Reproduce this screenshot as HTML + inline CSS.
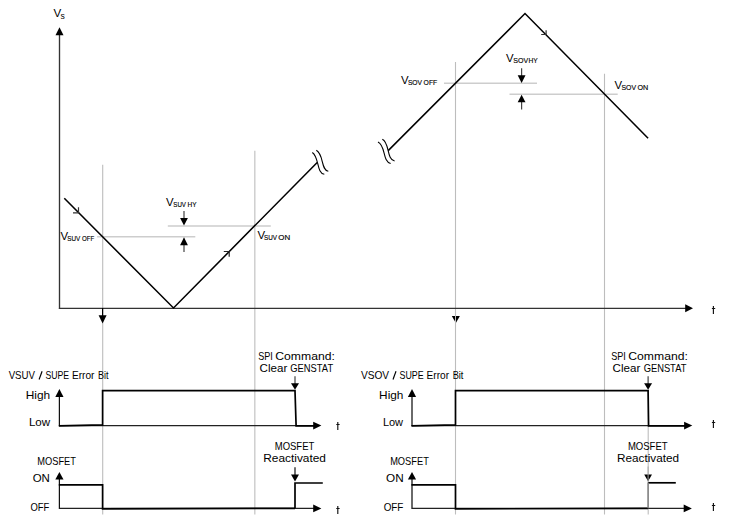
<!DOCTYPE html>
<html><head><meta charset="utf-8"><style>
html,body{margin:0;padding:0;background:#fff;}
svg{display:block;}
</style></head><body>
<svg width="742" height="520" viewBox="0 0 742 520">
<rect width="742" height="520" fill="#fff"/>
<line x1="102.7" y1="164.8" x2="102.7" y2="514.5" stroke="#bdbdbd" stroke-width="1.1"/>
<line x1="254.85" y1="150.8" x2="254.85" y2="514.5" stroke="#bdbdbd" stroke-width="1.1"/>
<line x1="455.5" y1="62" x2="455.5" y2="514.5" stroke="#bdbdbd" stroke-width="1.1"/>
<line x1="604.5" y1="73.8" x2="604.5" y2="514.5" stroke="#bdbdbd" stroke-width="1.1"/>
<line x1="648.2" y1="390" x2="648.2" y2="514.5" stroke="#bdbdbd" stroke-width="1.1"/>
<line x1="167.8" y1="226" x2="270.8" y2="226" stroke="#cdcdcd" stroke-width="1.5"/>
<line x1="97.1" y1="236.85" x2="195.3" y2="236.85" stroke="#cdcdcd" stroke-width="1.5"/>
<line x1="444" y1="83.3" x2="537" y2="83.3" stroke="#cdcdcd" stroke-width="1.5"/>
<line x1="509.5" y1="94.3" x2="617.7" y2="94.3" stroke="#cdcdcd" stroke-width="1.5"/>
<line x1="59.5" y1="34" x2="59.5" y2="309" stroke="#333" stroke-width="1.35"/>
<polygon points="59.5,27.2 55.5,35.2 63.5,35.2" fill="#000"/>
<line x1="58.9" y1="308.3" x2="687" y2="308.3" stroke="#333" stroke-width="1.35"/>
<polygon points="693,308.2 685.2,304.2 685.2,312.2" fill="#000"/>
<path d="M64.3,198.3 L173.5,308 L317.2,162.5" stroke="#000" stroke-width="1.55" fill="none" stroke-linejoin="miter"/>
<path d="M388.2,150.6 L525,13.5 L648.1,138.3" stroke="#000" stroke-width="1.55" fill="none" stroke-linejoin="miter"/>
<path d="M312.31,152.46 C319.44,157.22 316.38,173.17 324.31,174.31" stroke="#000" stroke-width="1.1" fill="none" />
<path d="M316.31,150.31 C323.98,154.38 320.71,169.96 328.31,171.23" stroke="#000" stroke-width="1.1" fill="none" />
<path d="M378.00,142.00 C385.93,145.89 382.19,160.90 390.62,163.54" stroke="#000" stroke-width="1.1" fill="none" />
<path d="M382.31,139.23 C389.92,142.60 386.34,159.62 394.62,161.08" stroke="#000" stroke-width="1.1" fill="none" />
<path d="M73.0,212.9 H78.5 V207.2" stroke="#333" stroke-width="1.2" fill="none" />
<path d="M223.8,251.5 H229.2 V256.8" stroke="#222" stroke-width="1.2" fill="none" />
<path d="M541.2,34.5 H546.1 V30.3" stroke="#333" stroke-width="1.2" fill="none" />
<line x1="184" y1="211" x2="184" y2="219" stroke="#444" stroke-width="1.2"/>
<polygon points="184,225.5 180.1,218 187.9,218" fill="#000"/>
<line x1="184" y1="244" x2="184" y2="252" stroke="#444" stroke-width="1.2"/>
<polygon points="184,237.2 180.1,245.3 187.9,245.3" fill="#000"/>
<line x1="521.6" y1="68.2" x2="521.6" y2="76" stroke="#444" stroke-width="1.2"/>
<polygon points="521.6,82.9 517.7,75.3 525.5,75.3" fill="#000"/>
<line x1="521.6" y1="101" x2="521.6" y2="109.6" stroke="#444" stroke-width="1.2"/>
<polygon points="521.6,94.8 517.7,102.2 525.5,102.2" fill="#000"/>
<line x1="102.6" y1="308" x2="102.6" y2="316" stroke="#000" stroke-width="1.2"/>
<polygon points="102.6,323.4 98.6,315.2 106.6,315.2" fill="#000"/>
<polygon points="451.8,315.9 459.9,315.9 455.85,323.0" fill="#000"/>
<line x1="455.5" y1="309" x2="455.5" y2="323" stroke="#bdbdbd" stroke-width="1.0"/>
<line x1="59.4" y1="395" x2="59.4" y2="426.1" stroke="#111" stroke-width="1.25"/>
<polygon points="59.4,389.1 55.3,397 63.5,397" fill="#000"/>
<line x1="59.4" y1="425.5" x2="314.4" y2="425.5" stroke="#222" stroke-width="1.25"/>
<polygon points="321.4,425.6 313.2,421.70000000000005 313.2,429.5" fill="#000"/>
<path d="M58.8,425.8 L102.6,424.9 V390.7 H295.0 L296.1,425.8 H314.4" stroke="#000" stroke-width="1.7" fill="none" />
<line x1="295.0" y1="376.3" x2="295.0" y2="384" stroke="#333" stroke-width="1.1"/>
<polygon points="295.0,389.8 291.0,383.3 299.0,383.3" fill="#000"/>
<line x1="59.4" y1="478" x2="59.4" y2="509.0" stroke="#111" stroke-width="1.25"/>
<polygon points="59.4,472 55.3,479.6 63.5,479.6" fill="#000"/>
<line x1="59.4" y1="508.3" x2="314.4" y2="508.3" stroke="#222" stroke-width="1.25"/>
<polygon points="321.4,508.4 313.2,504.5 313.2,512.3" fill="#000"/>
<path d="M58.8,484.8 H102.6 V508.9 L295.0,508.3" stroke="#000" stroke-width="1.7" fill="none" />
<path d="M295.0,508.3 V483.0 H322.8" stroke="#000" stroke-width="1.7" fill="none" />
<line x1="295.0" y1="467.2" x2="295.0" y2="475" stroke="#111" stroke-width="1.2"/>
<polygon points="295.0,481.6 291.0,474.6 299.0,474.6" fill="#000"/>
<line x1="412.0" y1="395" x2="412.0" y2="426.1" stroke="#111" stroke-width="1.25"/>
<polygon points="412.0,389.1 407.9,397 416.1,397" fill="#000"/>
<line x1="412.0" y1="425.5" x2="685.3" y2="425.5" stroke="#222" stroke-width="1.25"/>
<polygon points="692.3,425.6 684.0999999999999,421.70000000000005 684.0999999999999,429.5" fill="#000"/>
<path d="M411.4,425.8 L455.5,424.9 V390.7 H648.1 L648.6,425.8 H685.3" stroke="#000" stroke-width="1.7" fill="none" />
<line x1="648.1" y1="376.3" x2="648.1" y2="384" stroke="#333" stroke-width="1.1"/>
<polygon points="648.1,389.8 644.1,383.3 652.1,383.3" fill="#000"/>
<line x1="412.0" y1="478" x2="412.0" y2="509.0" stroke="#111" stroke-width="1.25"/>
<polygon points="412.0,472 407.9,479.6 416.1,479.6" fill="#000"/>
<line x1="412.0" y1="508.3" x2="684.9" y2="508.3" stroke="#222" stroke-width="1.25"/>
<polygon points="691.9,508.4 683.6999999999999,504.5 683.6999999999999,512.3" fill="#000"/>
<path d="M411.4,484.8 H455.5 V508.9 L648.1,508.3" stroke="#000" stroke-width="1.7" fill="none" />
<line x1="648.1" y1="482.8" x2="675.8" y2="482.8" stroke="#000" stroke-width="1.7"/>
<line x1="648.1" y1="508.3" x2="648.1" y2="482.5" stroke="#808080" stroke-width="1.5"/>
<polygon points="648.1,481.2 644.2,474.5 652.0,474.5" fill="#000"/>
<line x1="648.1" y1="466.5" x2="648.1" y2="481.5" stroke="#a8a8a8" stroke-width="1.0"/>
<g font-family="Liberation Sans, sans-serif" fill="#000">
<text x="53.6" y="17.1" font-size="11.6">V</text>
<text x="60.4" y="19.1" font-size="8.6">s</text>
<text x="60.6" y="239.9" font-size="11.4">V</text>
<g stroke="#000" stroke-width="0.15">
<text x="67.2" y="240.9" font-size="7.9" textLength="13.0" lengthAdjust="spacingAndGlyphs">SUV</text>
<text x="82.0" y="240.9" font-size="7.9" textLength="12.2" lengthAdjust="spacingAndGlyphs">OFF</text>
</g>
<text x="166.1" y="205.6" font-size="11.4">V</text>
<g stroke="#000" stroke-width="0.15">
<text x="173.3" y="206.9" font-size="7.9" textLength="12.7" lengthAdjust="spacingAndGlyphs">SUV</text>
<text x="187.6" y="206.9" font-size="7.9" textLength="9.0" lengthAdjust="spacingAndGlyphs">HY</text>
</g>
<text x="257.40000000000003" y="238.6" font-size="11.4">V</text>
<g stroke="#000" stroke-width="0.15">
<text x="264.0" y="239.9" font-size="7.9" textLength="13.0" lengthAdjust="spacingAndGlyphs">SUV</text>
<text x="278.3" y="239.9" font-size="7.9" textLength="11.9" lengthAdjust="spacingAndGlyphs">ON</text>
</g>
<text x="400.90000000000003" y="83.9" font-size="11.4">V</text>
<g stroke="#000" stroke-width="0.15">
<text x="407.9" y="84.75" font-size="7.9" textLength="14.2" lengthAdjust="spacingAndGlyphs">SOV</text>
<text x="423.6" y="84.75" font-size="7.9" textLength="13.6" lengthAdjust="spacingAndGlyphs">OFF</text>
</g>
<text x="506.1" y="61.6" font-size="11.4">V</text>
<g stroke="#000" stroke-width="0.15">
<text x="513.3" y="62.9" font-size="7.9" textLength="14.9" lengthAdjust="spacingAndGlyphs">SOV</text>
<text x="528.4" y="62.9" font-size="7.9" textLength="9.2" lengthAdjust="spacingAndGlyphs">HY</text>
</g>
<text x="614.6" y="88.6" font-size="11.4">V</text>
<g stroke="#000" stroke-width="0.15">
<text x="621.5" y="89.9" font-size="7.9" textLength="14.6" lengthAdjust="spacingAndGlyphs">SOV</text>
<text x="637.4" y="89.9" font-size="7.9" textLength="10.8" lengthAdjust="spacingAndGlyphs">ON</text>
</g>
<text x="8.66" y="378.8" font-size="10.5" textLength="26.39" lengthAdjust="spacingAndGlyphs">VSUV</text>
<text x="45.41" y="378.8" font-size="10.5" textLength="23.67" lengthAdjust="spacingAndGlyphs">SUPE</text>
<text x="71.97" y="378.8" font-size="10.5" textLength="22.50" lengthAdjust="spacingAndGlyphs">Error</text>
<text x="97.96" y="378.8" font-size="10.5" textLength="10.50" lengthAdjust="spacingAndGlyphs">Bit</text>
<text x="360.96" y="378.8" font-size="10.5" textLength="28.19" lengthAdjust="spacingAndGlyphs">VSOV</text>
<text x="399.50" y="378.8" font-size="10.5" textLength="24.18" lengthAdjust="spacingAndGlyphs">SUPE</text>
<text x="426.57" y="378.8" font-size="10.5" textLength="22.50" lengthAdjust="spacingAndGlyphs">Error</text>
<text x="452.64" y="378.8" font-size="10.5" textLength="10.83" lengthAdjust="spacingAndGlyphs">Bit</text>
<line x1="39.1" y1="379.5" x2="42.1" y2="371.2" stroke="#000" stroke-width="1.15"/>
<line x1="393.0" y1="379.5" x2="396.0" y2="371.2" stroke="#000" stroke-width="1.15"/>
<text x="25.72" y="398.8" font-size="10.5" textLength="24.45" lengthAdjust="spacingAndGlyphs">High</text>
<text x="28.95" y="426.3" font-size="10.5" textLength="21.22" lengthAdjust="spacingAndGlyphs">Low</text>
<text x="37.24" y="465.1" font-size="10.5" textLength="38.67" lengthAdjust="spacingAndGlyphs">MOSFET</text>
<text x="32.66" y="481.7" font-size="10.5" textLength="17.18" lengthAdjust="spacingAndGlyphs">ON</text>
<text x="30.55" y="511.2" font-size="10.5" textLength="18.82" lengthAdjust="spacingAndGlyphs">OFF</text>
<text x="379.13" y="398.8" font-size="10.5" textLength="24.34" lengthAdjust="spacingAndGlyphs">High</text>
<text x="382.90" y="426.3" font-size="10.5" textLength="20.18" lengthAdjust="spacingAndGlyphs">Low</text>
<text x="390.14" y="465.1" font-size="10.5" textLength="38.67" lengthAdjust="spacingAndGlyphs">MOSFET</text>
<text x="386.04" y="481.7" font-size="10.5" textLength="17.61" lengthAdjust="spacingAndGlyphs">ON</text>
<text x="383.63" y="511.2" font-size="10.5" textLength="19.76" lengthAdjust="spacingAndGlyphs">OFF</text>
<text x="258.19" y="360.2" font-size="10.5" textLength="14.65" lengthAdjust="spacingAndGlyphs">SPI</text>
<text x="275.28" y="360.2" font-size="10.5" textLength="59.63" lengthAdjust="spacingAndGlyphs">Command:</text>
<text x="611.19" y="360.2" font-size="10.5" textLength="14.65" lengthAdjust="spacingAndGlyphs">SPI</text>
<text x="628.28" y="360.2" font-size="10.5" textLength="59.63" lengthAdjust="spacingAndGlyphs">Command:</text>
<text x="259.61" y="371.7" font-size="10.5" textLength="27.68" lengthAdjust="spacingAndGlyphs">Clear</text>
<text x="290.34" y="371.7" font-size="10.5" textLength="42.76" lengthAdjust="spacingAndGlyphs">GENSTAT</text>
<text x="612.61" y="371.7" font-size="10.5" textLength="27.68" lengthAdjust="spacingAndGlyphs">Clear</text>
<text x="643.64" y="371.7" font-size="10.5" textLength="42.76" lengthAdjust="spacingAndGlyphs">GENSTAT</text>
<text x="274.72" y="449.9" font-size="10.5" textLength="39.60" lengthAdjust="spacingAndGlyphs">MOSFET</text>
<text x="263.23" y="462.0" font-size="10.5" textLength="62.74" lengthAdjust="spacingAndGlyphs">Reactivated</text>
<text x="627.92" y="449.8" font-size="10.5" textLength="39.70" lengthAdjust="spacingAndGlyphs">MOSFET</text>
<text x="616.93" y="461.7" font-size="10.5" textLength="62.12" lengthAdjust="spacingAndGlyphs">Reactivated</text>
</g>
<path d="M713.4,306 V313.9 M711.9,308.5 H715.1999999999999" stroke="#111" stroke-width="1.15" fill="none" />
<path d="M337.8,422 V429.9 M336.3,424.5 H339.6" stroke="#111" stroke-width="1.15" fill="none" />
<path d="M337.8,506 V513.9 M336.3,508.5 H339.6" stroke="#111" stroke-width="1.15" fill="none" />
<path d="M713.4,420 V427.9 M711.9,422.5 H715.1999999999999" stroke="#111" stroke-width="1.15" fill="none" />
<path d="M713.4,503.1 V511.0 M711.9,505.5 H715.1999999999999" stroke="#111" stroke-width="1.15" fill="none" />
</svg>
</body></html>
